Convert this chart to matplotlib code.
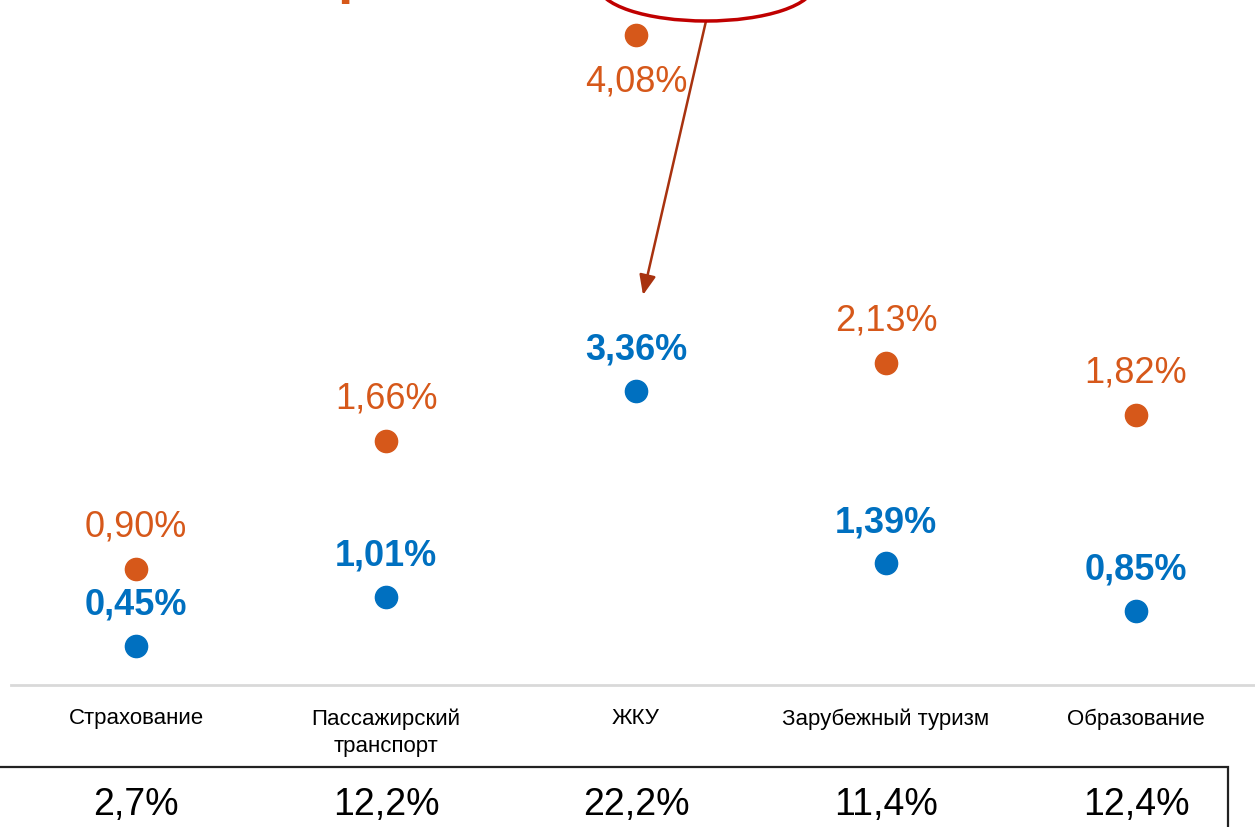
import numpy as np
import matplotlib.pyplot as plt
from matplotlib.patches import Ellipse, Rectangle

plt.rcParams['font.family'] = ['Liberation Sans', 'DejaVu Sans']

categories = ['Страхование', 'Пассажирский\nтранспорт', 'ЖКУ', 'Зарубежный туризм', 'Образование']
blue_values = [0.45, 1.01, 3.36, 1.39, 0.85]
orange_values = [0.90, 1.66, 4.08, 2.13, 1.82]
shares = ['2,7%', '12,2%', '22,2%', '11,4%', '12,4%']

blue = '#0070C0'
orange = '#D6581A'

W, H = 1255, 828
fig = plt.figure(figsize=(W / 100, H / 100), dpi=100)

# оси: ось X на y=686 px, по горизонтали по 250 px на категорию
ax = fig.add_axes([11 / W, (H - 686) / H, 1250 / W, 686 / H])
ax.set_xlim(-0.5, 4.5)
ax.set_ylim(0, 686 / 87.6)
# вторая шкала для оранжевого ряда
ax2 = ax.twinx()
ax2.set_ylim(0.21, 4.295)

for a in (ax, ax2):
    a.set_xticks([])
    a.set_yticks([])
    for s in a.spines.values():
        s.set_visible(False)
ax.spines['bottom'].set_visible(True)
ax.spines['bottom'].set_color('#D9D9D9')
ax.spines['bottom'].set_linewidth(2)

x = np.arange(len(categories))

ax.plot(x, blue_values, 'o', color=blue, markersize=16, clip_on=False)
ax2.plot(x, orange_values, 'o', color=orange, markersize=16, clip_on=False)

for i, v in enumerate(blue_values):
    ax.annotate(f'{v:.2f}%'.replace('.', ','), (i, v), xytext=(0, 30), textcoords='offset points',
                ha='center', va='center', fontsize=26, fontweight='bold', color=blue)

for i, v in enumerate(orange_values):
    # у максимальной точки подпись снизу
    dy = -33 if v == max(orange_values) else 31
    ax2.annotate(f'{v:.2f}%'.replace('.', ','), (i, v), xytext=(0, dy), textcoords='offset points',
                 ha='center', va='center', fontsize=26, color=orange)

# подписи категорий под осью
for i, c in enumerate(categories):
    ax.annotate(c, (i, 0), xytext=(0, -16), textcoords='offset points',
                ha='center', va='top', fontsize=16, color='black', linespacing=1.4,
                annotation_clip=False)

# рамка с долями
fig.patches.append(Rectangle((-5 / W, -20 / H), 1233 / W, (H - 768 + 20) / H,
                             transform=fig.transFigure, fill=False, edgecolor='#222222', linewidth=1.6))
for i, s in enumerate(shares):
    ax.annotate(s, (i, 0), xytext=(0, -(805 - 686) * 0.72), textcoords='offset points',
                ha='center', va='center', fontsize=27, color='black', annotation_clip=False)

# выноска сверху
fig.patches.append(Ellipse((706 / W, 1 + 14 / H), 216 / W, 72 / H, transform=fig.transFigure,
                           fill=False, edgecolor='#C00000', linewidth=2.5))
fig.text(354 / W, 1 + 8 / H, 'р', fontsize=40, fontweight='bold', color=orange,
         ha='center', va='baseline')
ax.annotate('', xy=(643 / W, (H - 296) / H), xycoords='figure fraction',
            xytext=(706 / W, (H - 22) / H), textcoords='figure fraction',
            arrowprops=dict(arrowstyle='-|>,head_length=1.2,head_width=0.5',
                            color='#A8320F', lw=1.8, shrinkA=0, shrinkB=0))

fig.savefig('out.png', dpi=100)
